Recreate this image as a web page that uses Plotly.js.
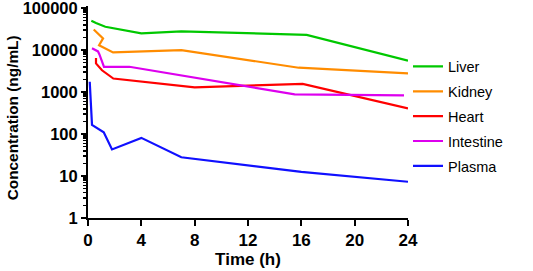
<!DOCTYPE html>
<html>
<head>
<meta charset="utf-8">
<script src="https://cdn.plot.ly/plotly-3.0.1.min.js"></script>
<style>html,body{margin:0;padding:0;background:#fff;}#chart{width:533px;height:271px;}</style>
</head>
<body>
<div id="chart"></div>
<script>
// Data (time in h, concentration in ng/mL)
const liverTime = [0.25, 0.6, 1.3, 4, 7, 16.4, 24];
const liverConc = [50000, 44000, 36000, 25000, 28000, 23000, 5600];
const kidneyTime = [0.43, 1.13, 0.83, 1.88, 7, 15.8, 24];
const kidneyConc = [31000, 19000, 13000, 8800, 10000, 3800, 2800];
const heartTime = [0.6, 0.6, 1.05, 1.9, 8, 16.1, 24];
const heartConc = [6500, 4800, 3300, 2100, 1300, 1560, 410];
const intestineTime = [0.3, 0.75, 0.85, 1.2, 3.1, 15.5, 23.7];
const intestineConc = [11000, 9300, 8000, 4000, 4000, 880, 830];
const plasmaTime = [0.13, 0.3, 1.18, 1.8, 4, 7, 16, 24];
const plasmaConc = [1760, 165, 110, 43, 81, 28, 12.6, 7.3];

const seriesNames = ['Liver', 'Kidney', 'Heart', 'Intestine', 'Plasma'];
const xTicks = [0, 4, 8, 12, 16, 20, 24];
const yTicks = [1, 10, 100, 1000, 10000, 100000];
const yTickText = ['1', '10', '100', '1000', '10000', '100000'];

const colors = ['#00c800', '#ff8c00', '#ff0000', '#dd00ee', '#1010ff'];
const xs = [liverTime, kidneyTime, heartTime, intestineTime, plasmaTime];
const ys = [liverConc, kidneyConc, heartConc, intestineConc, plasmaConc];

const font = 'Liberation Sans, Arial, sans-serif';
const traces = seriesNames.map((n, i) => ({
  x: xs[i], y: ys[i], name: n, type: 'scatter', mode: 'lines',
  line: {color: colors[i], width: 2.2},
  legendgroup: 'g' + i
}));

const layout = {
  width: 533, height: 271,
  margin: {l: 88, r: 125, t: 6, b: 53},
  paper_bgcolor: '#fff', plot_bgcolor: '#fff',
  showlegend: true,
  legend: {x: 1.0, xanchor: 'left', y: 0.79, yanchor: 'top',
    font: {family: font, size: 14.5, color: '#000'},
    tracegroupgap: 3, traceorder: 'grouped', bgcolor: 'rgba(0,0,0,0)'},
  xaxis: {
    range: [0, 24], tickmode: 'array', tickvals: xTicks,
    ticks: 'outside', ticklen: 6, tickwidth: 2, tickcolor: '#000',
    showline: true, linecolor: '#000', linewidth: 2,
    showgrid: false, zeroline: false,
    tickfont: {family: font, size: 17, weight: 'bold', color: '#000'},
    title: {text: 'Time (h)', font: {family: font, size: 17, weight: 'bold', color: '#000'}, standoff: 4}
  },
  yaxis: {
    type: 'log', range: [0, 5.05], tickmode: 'array', tickvals: yTicks, ticktext: yTickText,
    ticks: 'outside', ticklen: 5, tickwidth: 2, tickcolor: '#000',
    showline: true, linecolor: '#000', linewidth: 2,
    showgrid: false, zeroline: false, ticklabeloverflow: 'allow',
    minor: {ticks: 'outside', ticklen: 3, tickwidth: 1.5, tickcolor: '#000', dtick: 'D1', showgrid: false},
    tickfont: {family: font, size: 16.5, weight: 'bold', color: '#000'}
  },
  annotations: [{
    text: 'Concentration (ng/mL)', xref: 'paper', yref: 'paper',
    x: -0.2375, y: 0.47, xanchor: 'center', yanchor: 'middle', textangle: -90,
    showarrow: false, font: {family: font, size: 15.4, weight: 'bold', color: '#000'}
  }]
};
Plotly.newPlot('chart', traces, layout, {displayModeBar: false, staticPlot: true});
</script>
</body>
</html>
